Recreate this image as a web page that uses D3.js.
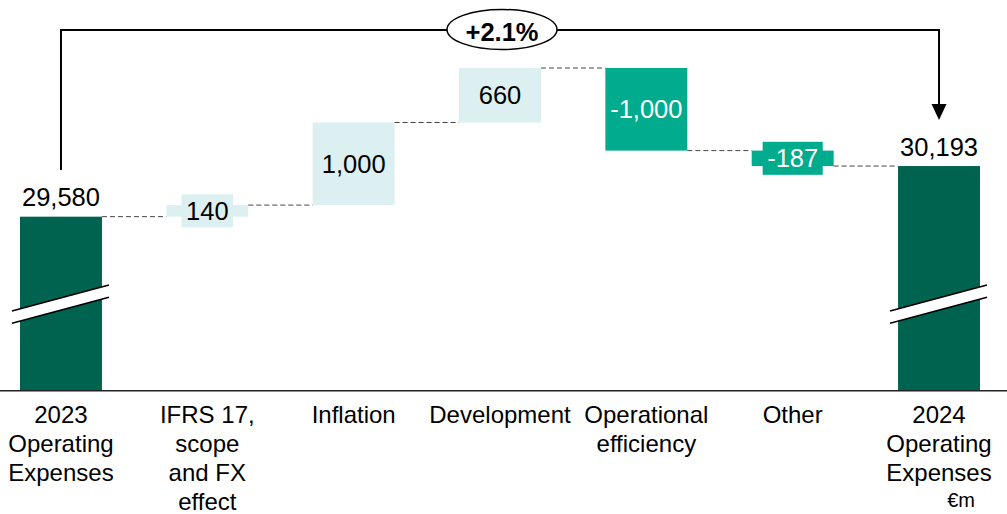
<!DOCTYPE html>
<html>
<head>
<meta charset="utf-8">
<script src="https://cdn.jsdelivr.net/npm/d3@7"></script>
<style>
  html, body { margin: 0; padding: 0; background: #fff; }
  svg { display: block; font-family: "Liberation Sans", Arial, sans-serif; }
</style>
</head>
<body>
<svg id="chart"></svg>
<script>
// chart values
var categories = [
  ['2023', 'Operating', 'Expenses'],
  ['IFRS 17,', 'scope', 'and FX', 'effect'],
  ['Inflation'],
  ['Development'],
  ['Operational', 'efficiency'],
  ['Other'],
  ['2024', 'Operating', 'Expenses']
];
var values = [29580, 140, 1000, 660, -1000, -187, 30193];
var kinds = ['total', 'delta', 'delta', 'delta', 'delta', 'delta', 'total'];
var valueLabels = ['29,580', '140', '1,000', '660', '-1,000', '-187', '30,193'];
var changeLabel = '+2.1%';
var unitLabel = '€m';

var width = 1007, height = 514;
var colors = { total: '#00634f', up: '#dcf0f2', down: '#00ab8e' };

var svg = d3.select('#chart').attr('width', width).attr('height', height);

// running levels of the waterfall
var steps = [];
var level = 0;
values.forEach(function(v, i) {
  if (kinds[i] === 'total') {
    steps.push({ i: i, start: null, end: v, kind: 'total' });
    level = v;
  } else {
    steps.push({ i: i, start: level, end: level + v, kind: v >= 0 ? 'up' : 'down' });
    level += v;
  }
});

var x = d3.scaleBand()
  .domain(d3.range(categories.length))
  .range([20, 980])
  .paddingInner(0.44)
  .paddingOuter(0);

// broken axis: the baseline stands for a value far below the bars
var y = d3.scaleLinear()
  .domain([27473, 31380])
  .range([390.7, 68]);
var baseY = y.range()[0];

// bars
steps.forEach(function(s) {
  var top, bottom;
  if (s.kind === 'total') {
    top = y(s.end); bottom = baseY;
  } else {
    top = y(Math.max(s.start, s.end)); bottom = y(Math.min(s.start, s.end));
  }
  s.top = top; s.bottom = bottom;
  svg.append('rect')
    .attr('x', x(s.i))
    .attr('y', top)
    .attr('width', x.bandwidth())
    .attr('height', bottom - top)
    .attr('fill', colors[s.kind]);
});

// dashed connectors
steps.forEach(function(s, i) {
  if (i === steps.length - 1) return;
  svg.append('line')
    .attr('x1', x(i) + x.bandwidth())
    .attr('x2', x(i + 1))
    .attr('y1', y(s.end))
    .attr('y2', y(s.end))
    .attr('stroke', '#444')
    .attr('stroke-width', 1)
    .attr('stroke-dasharray', '5,3');
});

// value labels
steps.forEach(function(s, i) {
  var cx = x(i) + x.bandwidth() / 2;
  if (s.kind === 'total') {
    svg.append('text')
      .attr('x', cx)
      .attr('y', s.top - 10.5)
      .attr('text-anchor', 'middle')
      .attr('font-size', 25.5)
      .attr('fill', '#000')
      .text(valueLabels[i]);
    return;
  }
  var cy = (s.top + s.bottom) / 2;
  var g = svg.append('g');
  var t = g.append('text')
    .attr('x', cx)
    .attr('y', cy)
    .attr('dy', '0.36em')
    .attr('text-anchor', 'middle')
    .attr('font-size', 25.5)
    .attr('fill', s.kind === 'down' ? '#fff' : '#000')
    .text(valueLabels[i]);
  var boxH = 33;
  if (s.bottom - s.top < boxH) {
    var w = t.node().getComputedTextLength() + 9;
    g.insert('rect', 'text')
      .attr('x', cx - w / 2)
      .attr('y', cy - boxH / 2)
      .attr('width', w)
      .attr('height', boxH)
      .attr('fill', colors[s.kind]);
  }
});

// axis line
svg.append('line')
  .attr('x1', 0).attr('x2', width)
  .attr('y1', baseY).attr('y2', baseY)
  .attr('stroke', '#222')
  .attr('stroke-width', 1.5);

// axis break marks on the total bars
steps.filter(function(s) { return s.kind === 'total'; }).forEach(function(s) {
  var x0 = x(s.i) - 8, x1 = x(s.i) + x.bandwidth() + 7;
  var yA = 311, yB = 285, gap = 12.3;
  svg.append('path')
    .attr('d', 'M' + x0 + ',' + yA + 'L' + x1 + ',' + yB + 'L' + x1 + ',' + (yB + gap) + 'L' + x0 + ',' + (yA + gap) + 'Z')
    .attr('fill', '#fff');
  [0, gap].forEach(function(off) {
    svg.append('line')
      .attr('x1', x0).attr('y1', yA + off)
      .attr('x2', x1).attr('y2', yB + off)
      .attr('stroke', '#000')
      .attr('stroke-width', 1.6);
  });
});

// category labels
categories.forEach(function(lines, i) {
  var t = svg.append('text')
    .attr('x', x(i) + x.bandwidth() / 2)
    .attr('y', 423.3)
    .attr('text-anchor', 'middle')
    .attr('font-size', 24)
    .attr('fill', '#000');
  lines.forEach(function(line, j) {
    t.append('tspan')
      .attr('x', x(i) + x.bandwidth() / 2)
      .attr('dy', j === 0 ? 0 : 29)
      .text(line);
  });
});

svg.append('text')
  .attr('x', 975)
  .attr('y', 507)
  .attr('text-anchor', 'end')
  .attr('font-size', 20)
  .attr('fill', '#000')
  .text(unitLabel);

// change bracket
var xFrom = x(0) + x.bandwidth() / 2;
var xTo = x(categories.length - 1) + x.bandwidth() / 2;
var bracketY = 30;
var tipY = 120;
svg.append('path')
  .attr('d', 'M' + xFrom + ',170V' + bracketY + 'H' + xTo + 'V' + (tipY - 14))
  .attr('fill', 'none')
  .attr('stroke', '#000')
  .attr('stroke-width', 2);
svg.append('path')
  .attr('d', 'M' + (xTo - 7.5) + ',' + (tipY - 16) + 'L' + (xTo + 7.5) + ',' + (tipY - 16) + 'L' + xTo + ',' + tipY + 'Z')
  .attr('fill', '#000');

var midX = (xFrom + xTo) / 2 + 2;
svg.append('ellipse')
  .attr('cx', midX)
  .attr('cy', 29.5)
  .attr('rx', 55)
  .attr('ry', 20)
  .attr('fill', '#fff')
  .attr('stroke', '#000')
  .attr('stroke-width', 1.5);
svg.append('text')
  .attr('x', midX)
  .attr('y', 40.5)
  .attr('text-anchor', 'middle')
  .attr('font-size', 25.5)
  .attr('font-weight', 'bold')
  .attr('fill', '#000')
  .text(changeLabel);
</script>
</body>
</html>
